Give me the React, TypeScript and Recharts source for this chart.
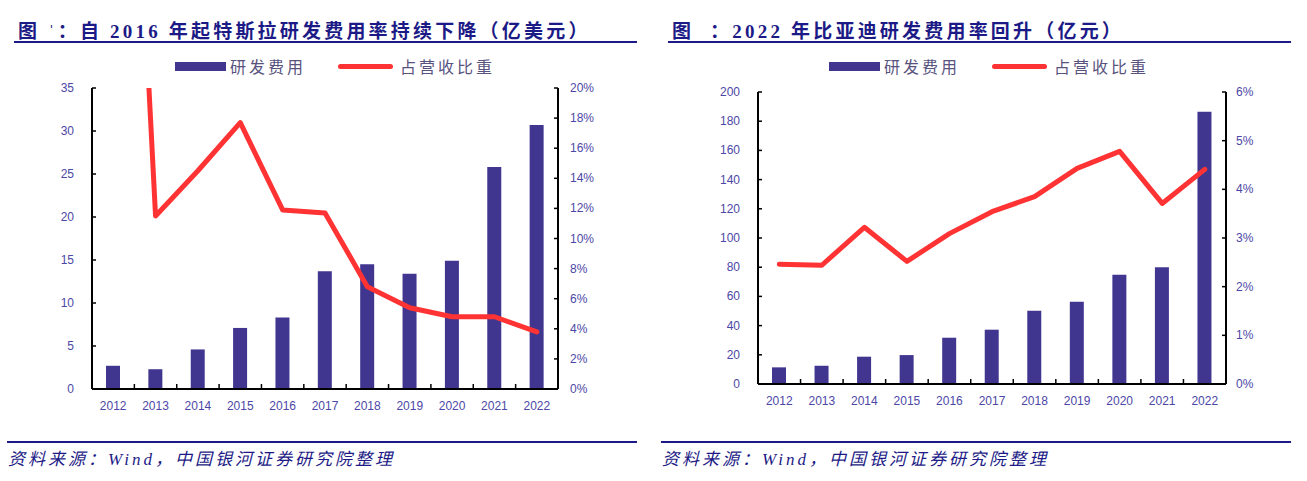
import { ComposedChart, Bar, Line, XAxis, YAxis } from 'recharts';

const years = ['2012', '2013', '2014', '2015', '2016', '2017', '2018', '2019', '2020', '2021', '2022'];

// Tesla: R&D expense (100m USD) and share of revenue
const teslaRd = [2.7, 2.3, 4.6, 7.1, 8.3, 13.7, 14.5, 13.4, 14.9, 25.8, 30.7];
const teslaRatio = [0.66, 0.115, 0.145, 0.177, 0.119, 0.117, 0.068, 0.054, 0.048, 0.048, 0.038];
const teslaLeftTicks = [0, 5, 10, 15, 20, 25, 30, 35];
const teslaRightTicks = [0, 0.02, 0.04, 0.06, 0.08, 0.1, 0.12, 0.14, 0.16, 0.18, 0.2];

// BYD: R&D expense (100m CNY) and share of revenue
const bydRd = [11.4, 12.5, 18.7, 19.8, 31.7, 37.2, 50.2, 56.3, 74.8, 80.0, 186.5];
const bydRatio = [0.0246, 0.0244, 0.0322, 0.0252, 0.0309, 0.0354, 0.0385, 0.0443, 0.0478, 0.0371, 0.0441];
const bydLeftTicks = [0, 20, 40, 60, 80, 100, 120, 140, 160, 180, 200];
const bydRightTicks = [0, 0.01, 0.02, 0.03, 0.04, 0.05, 0.06];

const seriesNames = ['研发费用', '占营收比重'];

const NAVY = '#1c1a86';
const BAR = '#41368f';
const RED = '#ff3333';
const TICK = '#4c47a6';
const TICK_FONT = "'Liberation Sans', Arial, sans-serif";

const pct = (v: number) => `${Math.round(v * 100)}%`;
const num = (v: number) => `${v}`;

function YTick(props: any) {
  const { x, y, payload, side, fmt, gap } = props;
  const ax = side === 'left' ? x + gap : x - gap;
  const inner = side === 'left' ? ax + 4 : ax - 4;
  return (
    <g>
      <line x1={ax} x2={inner} y1={y} y2={y} stroke="#000" strokeWidth={1.5} />
      <text x={x} y={y} dy={4} textAnchor={side === 'left' ? 'end' : 'start'} fill={TICK} fontSize={12} fontFamily={TICK_FONT}>
        {fmt(payload.value)}
      </text>
    </g>
  );
}

function XTick(props: any) {
  const { x, y, payload, band } = props;
  return (
    <g>
      <line x1={x - band / 2} x2={x - band / 2} y1={y} y2={y - 5} stroke="#000" strokeWidth={1.5} />
      <text x={x} y={y} dy={21} textAnchor="middle" fill={TICK} fontSize={12} fontFamily={TICK_FONT}>
        {payload.value}
      </text>
    </g>
  );
}

function Panel(props: any) {
  const { left, title, rd, ratio, leftTicks, rightTicks, leftMax, rightMax, plotTop, plotH, plotLeft, plotW, rGap } = props;
  const data = years.map((y, i) => ({ year: y, rd: rd[i], ratio: ratio[i] }));
  const band = plotW / years.length;
  const chartLeft = plotLeft - 40;
  return (
    <>
      <div style={{ position: 'absolute', left: left + 4, top: 16, fontFamily: "'Liberation Serif', 'Noto Sans CJK SC', serif", fontWeight: 700, fontSize: 19, letterSpacing: 3.2, color: NAVY, whiteSpace: 'pre' }}>
        {title}
      </div>
      <div style={{ position: 'absolute', left: left, top: 41, width: 623, height: 2, background: NAVY }} />
      <div style={{ position: 'absolute', left: left + 161, top: 62, width: 51, height: 9, background: BAR }} />
      <div style={{ position: 'absolute', left: left + 216, top: 54, fontFamily: "'Noto Sans CJK SC', sans-serif", fontSize: 16, letterSpacing: 3, color: '#57527e' }}>
        {seriesNames[0]}
      </div>
      <div style={{ position: 'absolute', left: left + 324, top: 64, width: 55, height: 5, borderRadius: 3, background: RED }} />
      <div style={{ position: 'absolute', left: left + 386, top: 54, fontFamily: "'Noto Sans CJK SC', sans-serif", fontSize: 16, letterSpacing: 3, color: '#57527e' }}>
        {seriesNames[1]}
      </div>
      <div style={{ position: 'absolute', left: chartLeft, top: plotTop - 10 }}>
        <ComposedChart width={plotW + 80} height={plotH + 40} data={data} margin={{ top: 10, right: 0, left: 0, bottom: 0 }}>
          <XAxis
            dataKey="year"
            height={30}
            axisLine={{ stroke: '#000', strokeWidth: 2 }}
            tickLine={false}
            tickSize={0}
            tickMargin={0}
            interval={0}
            tick={<XTick band={band} />}
          />
          <YAxis
            yAxisId="l"
            width={40}
            domain={[0, leftMax]}
            ticks={leftTicks}
            interval={0}
            axisLine={{ stroke: '#000', strokeWidth: 2 }}
            tickLine={false}
            tickSize={0}
            tickMargin={18}
            tick={<YTick side="left" fmt={num} gap={18} />}
          />
          <YAxis
            yAxisId="r"
            orientation="right"
            width={40}
            domain={[0, rightMax]}
            allowDataOverflow
            ticks={rightTicks}
            interval={0}
            axisLine={{ stroke: '#000', strokeWidth: 2 }}
            tickLine={false}
            tickSize={0}
            tickMargin={rGap}
            tick={<YTick side="right" fmt={pct} gap={rGap} />}
          />
          <Bar yAxisId="l" dataKey="rd" fill={BAR} barSize={14} isAnimationActive={false} />
          <Line
            yAxisId="r"
            dataKey="ratio"
            stroke={RED}
            strokeWidth={5}
            strokeLinejoin="round"
            strokeLinecap="round"
            dot={false}
            activeDot={false}
            type="linear"
            isAnimationActive={false}
          />
        </ComposedChart>
      </div>
      <div style={{ position: 'absolute', left: left - 7, top: 441, width: 630, height: 2, background: NAVY }} />
      <div style={{ position: 'absolute', left: left - 6, top: 445, fontFamily: "'Liberation Serif', 'Noto Sans CJK SC', serif", fontStyle: 'italic', fontSize: 17, letterSpacing: 3, color: NAVY }}>
        资料来源：Wind，中国银河证券研究院整理
      </div>
    </>
  );
}

export default function App() {
  return (
    <div style={{ position: 'absolute', left: 0, top: 0, width: 1307, height: 481, background: '#fff', overflow: 'hidden' }}>
      <Panel
        left={14}
        title={"图 ˈ：自 2016 年起特斯拉研发费用率持续下降（亿美元）"}
        rd={teslaRd}
        ratio={teslaRatio}
        leftTicks={teslaLeftTicks}
        rightTicks={teslaRightTicks}
        leftMax={35}
        rightMax={0.2}
        plotTop={88}
        plotH={301}
        plotLeft={92}
        plotW={466}
        rGap={12}
      />
      <Panel
        left={668}
        title={"图  ：2022 年比亚迪研发费用率回升（亿元）"}
        rd={bydRd}
        ratio={bydRatio}
        leftTicks={bydLeftTicks}
        rightTicks={bydRightTicks}
        leftMax={200}
        rightMax={0.06}
        plotTop={92}
        plotH={292}
        plotLeft={758}
        plotW={468}
        rGap={10}
      />
    </div>
  );
}
